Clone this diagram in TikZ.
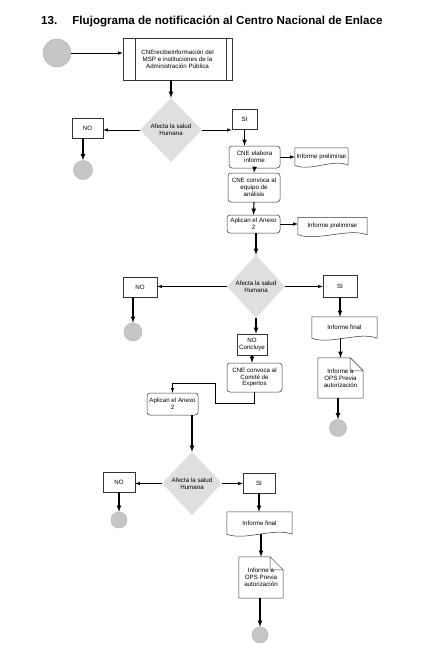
\documentclass[tikz,border=0pt]{standalone}
\usepackage{fontspec}
\setmainfont{Liberation Sans}
\usetikzlibrary{shapes.geometric,arrows,calc}

\begin{document}
\begin{tikzpicture}[x=1pt, y=-1pt,
    every node/.style={font=\fontsize{6.2}{6.8}\selectfont, align=center, inner sep=1pt},
    box/.style={draw=black!80, line width=0.5pt},
    rbox/.style={box, rounded corners=3pt},
    dec/.style={diamond, fill=gray!25, inner sep=0pt},
    term/.style={circle, fill=gray!45, draw=gray!65, line width=0.4pt, inner sep=0pt},
    arr/.style={-latex, line width=0.6pt},
    arrv/.style={-latex, line width=1.1pt}]
    \useasboundingbox (0,0) rectangle (429,659);
    % Title
    \node[anchor=west, font=\fontsize{11.6}{13}\selectfont\bfseries] (titulo) at (40,21)
        {13.\hspace{1.3em}Flujograma de notificación al Centro Nacional de Enlace};
    % Start and reception
    \node[term, minimum size=28pt] (ini) at (57,53) {};
    \node[box, minimum width=109pt, minimum height=42pt] (recibe) at (177.5,59)
        {CNErecibeInformación del\\MSP e instituciones de la\\Administración Pública};
    \draw[box] ([xshift=12pt]recibe.north west) -- ([xshift=12pt]recibe.south west);
    \draw[box] ([xshift=-6pt]recibe.north east) -- ([xshift=-6pt]recibe.south east);
    % First decision
    \node[dec, minimum width=62pt, minimum height=64pt] (afecta1) at (171,130) {Afecta la salud\\Humana};
    \node[box, minimum width=31pt, minimum height=20pt] (no1) at (87.5,128) {NO};
    \node[term, minimum size=19pt] (fin1) at (83,170) {};
    \node[box, minimum width=25pt, minimum height=20pt] (si1) at (244.5,119) {SI};
    \node[rbox, minimum width=51pt, minimum height=22pt] (elabora) at (254.5,157) {CNE elabora\\informe};
    \node[minimum width=53pt, minimum height=17pt] (prelim1) at (321.5,156.5) {Informe preliminar};
    \node[rbox, minimum width=52pt, minimum height=29pt] (equipo) at (254,187.5) {CNE convoca al\\equipo de\\análisis};
    \node[rbox, minimum width=53pt, minimum height=18pt] (anexo1) at (253.5,224) {Aplican el Anexo\\2};
    \node[minimum width=69pt, minimum height=17pt] (prelim2) at (332.5,226) {Informe preliminar};
    % Second decision
    \node[dec, minimum width=58pt, minimum height=63pt] (afecta2) at (256,286.5) {Afecta la salud\\Humana};
    \node[box, minimum width=34pt, minimum height=20pt] (no2) at (140,287) {NO};
    \node[term, minimum size=18pt] (fin2) at (133,332) {};
    \node[box, minimum width=34pt, minimum height=22pt] (si2) at (340,286) {SI};
    \node[minimum width=65pt, minimum height=21pt] (final1) at (344.5,327.5) {Informe final};
    \node[minimum width=45pt, minimum height=40pt] (ops1) at (340.5,378) {Informe a\\OPS Previa\\autorización};
    \node[term, minimum size=17pt] (fin3) at (338,428) {};
    \node[box, minimum width=30pt, minimum height=21pt] (concluye) at (252,344.5) {NO\\Concluye};
    \node[rbox, minimum width=55pt, minimum height=29pt] (comite) at (254.5,377.5) {CNE convoca al\\Comité de\\Expertos};
    \node[rbox, minimum width=51pt, minimum height=22pt] (anexo2) at (172.5,404) {Aplican el Anexo\\2};
    % Third decision
    \node[dec, minimum width=60pt, minimum height=63pt] (afecta3) at (192,483.5) {Afecta la salud\\Humana};
    \node[box, minimum width=32pt, minimum height=20pt] (no3) at (119,482) {NO};
    \node[term, minimum size=16pt] (fin4) at (119,520) {};
    \node[box, minimum width=32pt, minimum height=20pt] (si3) at (259,483) {SI};
    \node[minimum width=65pt, minimum height=22pt] (final2) at (259.5,523) {Informe final};
    \node[minimum width=44pt, minimum height=41pt] (ops2) at (261,577.5) {Informe a\\OPS Previa\\autorización};
    \node[term, minimum size=16pt] (fin5) at (260,635) {};
    % Document outlines
    \foreach \d in {prelim1,prelim2,final1,final2}
        \draw[box] (\d.south west) -- (\d.north west) -- (\d.north east) -- (\d.south east)
            .. controls ($(\d.south)!0.45!(\d.south east)+(0,-7)$) and ($(\d.south)!0.45!(\d.south west)+(0,7)$) .. (\d.south west);
    \foreach \n in {ops1,ops2}
        \draw[box] (\n.south west) -- (\n.north west) -- ([xshift=-13pt]\n.north east)
            -- ([yshift=-13pt]\n.north east) -- (\n.south east) -- cycle
            ([xshift=-13pt]\n.north east) |- ([yshift=-13pt]\n.north east);
    % Connectors
    \draw[arr] (ini.east) -- (ini.east -| recibe.west);
    \draw[arrv] (afecta1.north |- recibe.south) -- (afecta1.north);
    \draw[arr] (afecta1.west) -- (afecta1.west -| no1.east);
    \draw[arrv] (fin1.north |- no1.south) -- (fin1.north);
    \draw[arr] (afecta1.east) -- (afecta1.east -| si1.west);
    \draw[arrv] (si1.south) -- (si1.south |- elabora.north);
    \draw[arr] (elabora.east) -- (elabora.east -| prelim1.west);
    \draw[arrv] (elabora.south) -- (equipo.north);
    \draw[arrv] (equipo.south) -- (anexo1.north);
    \draw[arr] (anexo1.east) -- (anexo1.east -| prelim2.west);
    \draw[arrv] (afecta2.north |- anexo1.south) -- (afecta2.north);
    \draw[arr] (afecta2.west) -- (afecta2.west -| no2.east);
    \draw[arrv] (fin2.north |- no2.south) -- (fin2.north);
    \draw[arr] (afecta2.east) -- (afecta2.east -| si2.west);
    \draw[arrv] (si2.south) -- (si2.south |- final1.north);
    \draw[arrv] (ops1.north |- final1.south) -- (ops1.north);
    \draw[arrv] (fin3.north |- ops1.south) -- (fin3.north);
    \draw[arrv] (afecta2.south) -- (afecta2.south |- concluye.north);
    \draw[arrv] (concluye.south) -- (concluye.south |- comite.north);
    \draw[arr] (comite.south) -- ++(0,11) -- ++(-39.5,0) -- ++(0,-20) -| (anexo2.north);
    \draw[arrv] (afecta3.north |- anexo2.south) -- (afecta3.north);
    \draw[arr] (afecta3.west) -- (afecta3.west -| no3.east);
    \draw[arrv] (fin4.north |- no3.south) -- (fin4.north);
    \draw[arr] (afecta3.east) -- (afecta3.east -| si3.west);
    \draw[arrv] (si3.south) -- (si3.south |- final2.north);
    \draw[arrv] (ops2.north |- final2.south) -- (ops2.north);
    \draw[arrv] (fin5.north |- ops2.south) -- (fin5.north);
\end{tikzpicture}
\end{document}
